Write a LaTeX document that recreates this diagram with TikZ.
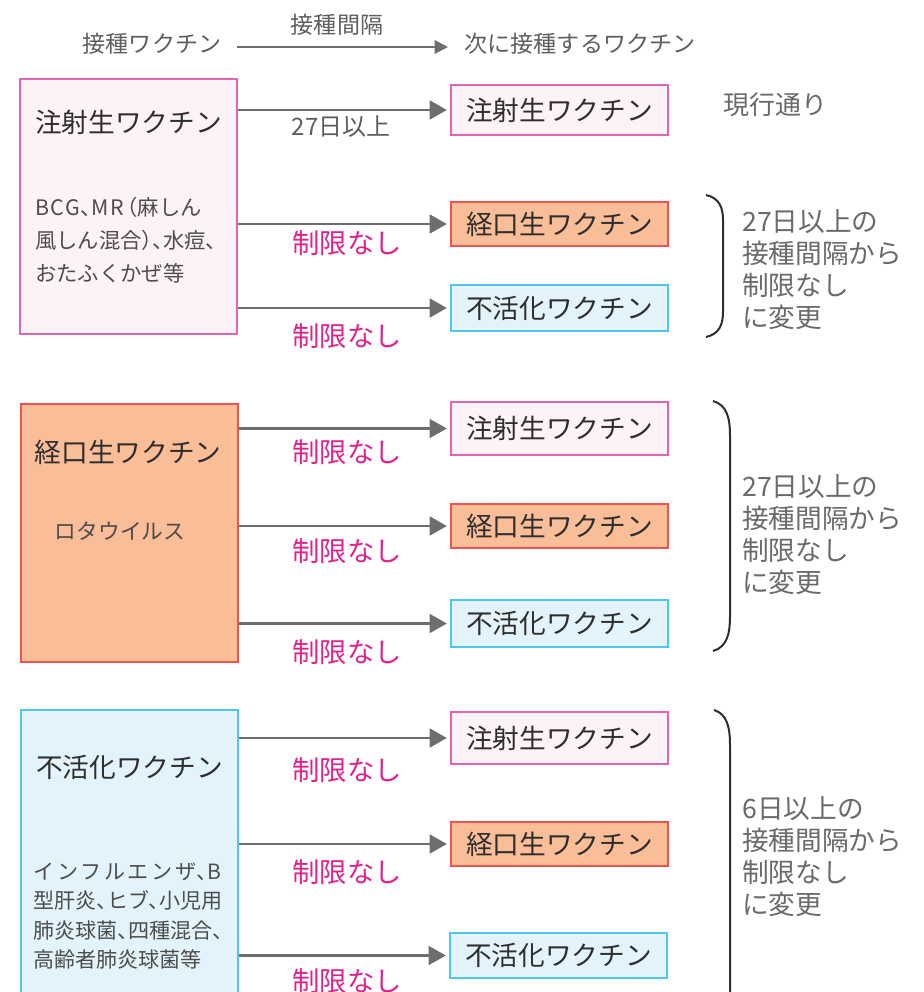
\documentclass[tikz,border=0pt]{standalone}
\usepackage{fontspec}
\setmainfont{Noto Sans CJK JP}
\newfontfamily\subfont[RawFeature=+halt]{Noto Sans CJK JP}
\usetikzlibrary{arrows.meta}
\definecolor{pinkfill}{HTML}{FDF2F6}
\definecolor{pinkline}{HTML}{E463B4}
\definecolor{orfill}{HTML}{F9BD97}
\definecolor{orline}{HTML}{EF5350}
\definecolor{blfill}{HTML}{E2F3FB}
\definecolor{blline}{HTML}{4FC6EE}
\definecolor{arrgray}{HTML}{6E6E70}
\definecolor{txtgray}{HTML}{5E5E5E}
\definecolor{rgray}{HTML}{6A6A6A}
\definecolor{mag}{HTML}{E0228C}
\definecolor{dark}{HTML}{2E2E2E}
\newcommand{\wideltr}[2]{{\addfontfeature{LetterSpace=#1}#2}}
\begin{document}
\begin{tikzpicture}[x=0.75pt,y=-0.75pt,
  box/.style={draw, line width=1.1pt, inner sep=0pt, anchor=center},
  pinkbox/.style={box, draw=pinkline, fill=pinkfill},
  orbox/.style={box, draw=orline, fill=orfill},
  blbox/.style={box, draw=blline, fill=blfill},
  tgt/.style={minimum width=162.75pt, text=dark, font=\fontsize{20}{24}\selectfont},
  src/.style={minimum width=162.75pt},
  title/.style={text=dark, inner sep=0pt, font=\fontsize{20}{24}\selectfont},
  subtxt/.style={text=dark!85, inner sep=0pt, anchor=west, align=left},
  lbl/.style={text=mag, inner sep=0pt, font=\fontsize{20.5}{24}\selectfont},
  rtxt/.style={text=rgray, inner sep=0pt, anchor=west, align=left, font=\fontsize{20}{24}\selectfont},
  hdr/.style={text=txtgray, inner sep=0pt, font=\fontsize{17.3}{20}\selectfont},
  arr/.style={draw=arrgray, line width=2.2pt, -{Triangle[length=13pt,width=14pt]}, shorten >=2.5pt},
  harr/.style={draw=arrgray, line width=1.5pt, -{Triangle[length=10pt,width=10pt]}},
  brace/.style={draw=dark, line width=1.5pt}
]
\useasboundingbox (0,0) rectangle (924,992);
\fill[white] (0,0) rectangle (924,992);
\clip (0,0) rectangle (924,992);

% header
\node[hdr] (h1) at (152,44) {接種ワクチン};
\node[hdr] (h2) at (337,25) {接種間隔};
\node[hdr] (h3) at (580,44) {次に接種するワクチン};
\coordinate (ha) at (237,47);
\coordinate (hb) at (448,47);
\draw[harr] (ha) -- (hb);

% block 1
\node[pinkbox, src, minimum height=191.25pt] (s1) at (128.5,206.5) {};
\node[title] (s1t) at (128.5,122) {注射生ワクチン};
\node[subtxt, font=\subfont\fontsize{16}{24.75}\selectfont] (s1s) at (35,240) {\wideltr{8}{BCG}、\wideltr{8}{MR}\,（麻しん\\風しん混合）、水痘、\\おたふくかぜ等};
\node[pinkbox, tgt, minimum height=37.5pt] (t11) at (559.5,110) {注射生ワクチン};
\node[orbox, tgt, minimum height=33pt] (t12) at (559.5,224) {経口生ワクチン};
\node[blbox, tgt, minimum height=34.5pt] (t13) at (559.5,308) {不活化ワクチン};
\draw[arr] (s1.east |- t11.west) -- (t11.west);
\draw[arr] (s1.east |- t12.west) -- (t12.west);
\draw[arr] (s1.east |- t13.west) -- (t13.west);
\node[text=txtgray, inner sep=0pt, font=\fontsize{18}{22}\selectfont] (l11) at (341,127) {27日以上};
\node[lbl] (l12) at (347,243) {制限なし};
\node[lbl] (l13) at (347,336) {制限なし};
\node[text=rgray, inner sep=0pt, font=\fontsize{19.5}{24}\selectfont] (r10) at (775,105) {現行通り};
\draw[brace] (706,195) .. controls (719,198) and (723,207) .. (723,220) -- (723,312) .. controls (723,325) and (719,334) .. (706,337);
\node[rtxt] (r1) at (742,270) {27日以上の\\接種間隔から\\制限なし\\に変更};

% block 2
\node[orbox, src, minimum height=193.5pt] (s2) at (129.5,533) {};
\node[title] (s2t) at (128,452) {経口生ワクチン};
\node[text=dark!85, inner sep=0pt, font=\fontsize{16.3}{20}\selectfont] (s2s) at (120,531) {ロタウイルス};
\node[pinkbox, tgt, minimum height=40pt] (t21) at (559.5,428.5) {注射生ワクチン};
\node[orbox, tgt, minimum height=33pt] (t22) at (559.5,526) {経口生ワクチン};
\node[blbox, tgt, minimum height=35pt] (t23) at (559.5,623.5) {不活化ワクチン};
\draw[arr] (s2.east |- t21.west) -- (t21.west);
\draw[arr] (s2.east |- t22.west) -- (t22.west);
\draw[arr] (s2.east |- t23.west) -- (t23.west);
\node[lbl] (l21) at (347,452) {制限なし};
\node[lbl] (l22) at (347,551) {制限なし};
\node[lbl] (l23) at (347,652) {制限なし};
\draw[brace] (713,401) .. controls (727,405) and (730,418) .. (730,436) -- (730,616) .. controls (730,634) and (727,647) .. (713,651);
\node[rtxt] (r2) at (742,534.5) {27日以上の\\接種間隔から\\制限なし\\に変更};

% block 3
\node[blbox, src, minimum height=217.5pt] (s3) at (129.5,855) {};
\node[title] (s3t) at (129.5,767) {不活化ワクチン};
\node[subtxt, font=\subfont\fontsize{15.8}{22}\selectfont] (s3s) at (33,916) {\wideltr{13}{インフルエンザ}、B\\型肝炎、ヒブ、小児用\\肺炎球菌、四種混合、\\高齢者肺炎球菌等};
\node[pinkbox, tgt, minimum height=39pt] (t31) at (559.5,738) {注射生ワクチン};
\node[orbox, tgt, minimum height=33pt] (t32) at (559.5,844) {経口生ワクチン};
\node[blbox, tgt, minimum height=33.75pt] (t33) at (558.5,955.5) {不活化ワクチン};
\draw[arr] (s3.east |- t31.west) -- (t31.west);
\draw[arr] (s3.east |- t32.west) -- (t32.west);
\draw[arr] (s3.east |- t33.west) -- (t33.west);
\node[lbl] (l31) at (347,770) {制限なし};
\node[lbl] (l32) at (347,872) {制限なし};
\node[lbl] (l33) at (347,981) {制限なし};
\draw[brace] (714,710) .. controls (727,714) and (730,727) .. (730,745) -- (730,1010);
\node[rtxt] (r3) at (742,856.5) {6日以上の\\接種間隔から\\制限なし\\に変更};
\end{tikzpicture}
\end{document}
